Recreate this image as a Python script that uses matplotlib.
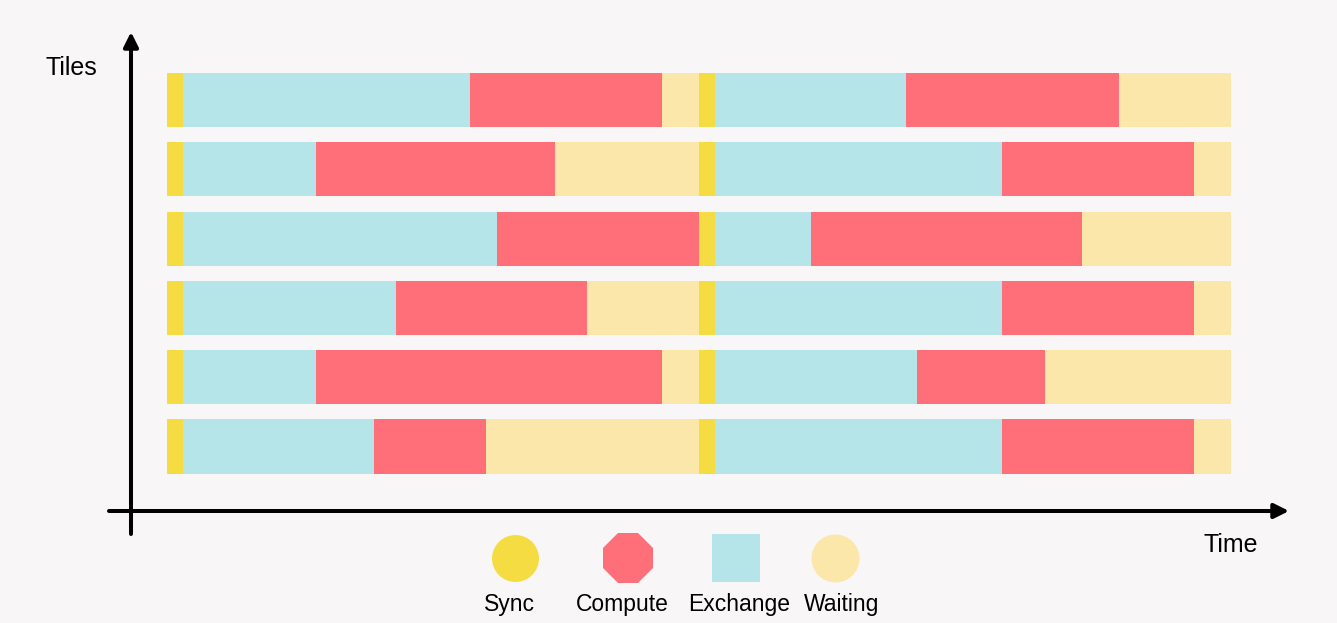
import numpy as np
import matplotlib.pyplot as plt
from matplotlib.lines import Line2D

# ---- data: time spent per state, two phases, top row first ----
tiles = ['Tile 1', 'Tile 2', 'Tile 3', 'Tile 4', 'Tile 5', 'Tile 6']
sync_time = [3, 3, 3, 3, 3, 3]
exchange_1 = [54, 25, 59, 40, 25, 36]
compute_1 = [36, 45, 38, 36, 65, 21]
waiting_1 = [7, 27, 0, 21, 7, 40]
exchange_2 = [36, 54, 18, 54, 38, 54]
compute_2 = [40, 36, 51, 36, 24, 36]
waiting_2 = [21, 7, 28, 7, 35, 7]
legend_labels = ['Sync', 'Compute', 'Exchange', 'Waiting']

# ---- styles ----
BG = '#f8f6f7'
C_SYNC = '#f5dc42'
C_COMP = '#ff6f79'
C_EXCH = '#b5e4e9'
C_WAIT = '#fce7ab'
W, H = 1337, 623
FONT = ['Liberation Sans', 'DejaVu Sans']

fig = plt.figure(figsize=(W / 100, H / 100), dpi=100, facecolor=BG)
ax = fig.add_axes([0, 0, 1, 1])
ax.set_facecolor(BG)
ax.axis('off')

# scales: 5.32 px per time unit, 69.3 px per row
px_t = 5.32
px_r = 69.3
ax.set_xlim(-167 / px_t, (W - 167) / px_t)
ax.set_ylim(-176.5 / px_r, (H - 176.5) / px_r)

ypos = np.arange(len(tiles))[::-1]
left = np.zeros(len(tiles))
segments = [(sync_time, C_SYNC), (exchange_1, C_EXCH), (compute_1, C_COMP), (waiting_1, C_WAIT),
            (sync_time, C_SYNC), (exchange_2, C_EXCH), (compute_2, C_COMP), (waiting_2, C_WAIT)]
for vals, col in segments:
    vals = np.array(vals, dtype=float)
    ax.barh(ypos, vals, left=left, height=0.78, color=col, linewidth=0)
    left = left + vals


def fx(px):
    return px / W


def fy(py):
    return 1 - py / H


# axes arrows
arrow = dict(arrowstyle='-|>', lw=2.9, color='black', mutation_scale=22, shrinkA=0, shrinkB=0)
ax.annotate('', xy=(fx(131), fy(32)), xytext=(fx(131), fy(534)),
            xycoords='figure fraction', textcoords='figure fraction', arrowprops=arrow)
ax.annotate('', xy=(fx(1289), fy(511)), xytext=(fx(109), fy(511)),
            xycoords='figure fraction', textcoords='figure fraction', arrowprops=arrow)

fig.text(fx(71.5), fy(75), 'Tiles', fontsize=18, family=FONT, ha='center', va='baseline')
fig.text(fx(1230.5), fy(552.5), 'Time', fontsize=18, family=FONT, ha='center', va='baseline')

# legend, markers above labels
marks = [('o', C_SYNC, 33.8, 514.5, 509),
         ('8', C_COMP, 38.2, 627.5, 622.5),
         ('s', C_EXCH, 34.6, 736, 738.7),
         ('o', C_WAIT, 34.6, 835, 842)]
for (m, col, ms, mx, tx), lab in zip(marks, legend_labels):
    fig.add_artist(Line2D([fx(mx)], [fy(558)], marker=m, markersize=ms, color=col,
                          markeredgewidth=0, linestyle='none', transform=fig.transFigure))
    fig.text(fx(tx), fy(611), lab, fontsize=16.5, family=FONT, ha='center', va='baseline')

fig.savefig('out.png', dpi=100, facecolor=BG)
